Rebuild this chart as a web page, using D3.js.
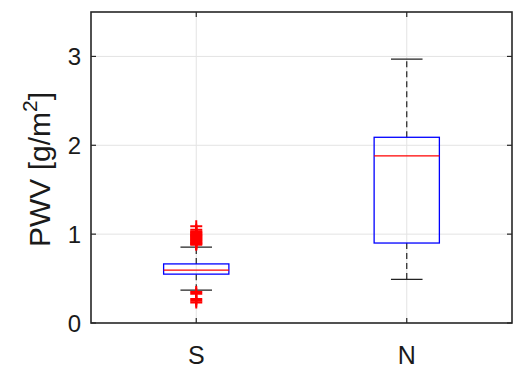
<!DOCTYPE html>
<html>
<head>
<meta charset="utf-8">
<script src="https://cdn.jsdelivr.net/npm/d3@7"></script>
<style>
  html, body { margin: 0; padding: 0; background: #fff; }
  text { font-family: "Liberation Sans", Arial, Helvetica, sans-serif; fill: #1a1a1a; }
</style>
</head>
<body>
<svg id="chart" width="513" height="369"></svg>
<script>
// ─── Data ───────────────────────────────────────────────────
const groups = ["S", "N"];
const q1 = [0.55, 0.90];
const medians = [0.595, 1.88];
const q3 = [0.665, 2.09];
const whiskerLow = [0.37, 0.49];
const whiskerHigh = [0.855, 2.97];
const outliersS = [0.88, 0.89, 0.9, 0.91, 0.92, 0.93, 0.94, 0.95, 0.96, 0.97, 0.98, 0.99, 1.0, 1.01, 1.02, 1.03, 1.05, 1.09,
                   0.35, 0.33, 0.27, 0.25, 0.23];
const outliersN = [];
const yTicks = [0, 1, 2, 3];

// ─── Layout ─────────────────────────────────────────────────
const svg = d3.select("#chart");
const mLeft = 91, mRight = 512, mTop = 12, mBottom = 323;

const x = d3.scaleLinear().domain([0.5, 2.5]).range([mLeft, mRight]);
const y = d3.scaleLinear().domain([0, 3.5]).range([mBottom, mTop]);
const boxHalf = 0.155;
const capHalf = 0.075;

// Grid
svg.append("g").selectAll("line").data(yTicks.filter(d => d > 0)).enter().append("line")
  .attr("x1", mLeft).attr("x2", mRight)
  .attr("y1", d => y(d)).attr("y2", d => y(d))
  .attr("stroke", "#e3e3e3").attr("stroke-width", 1);
svg.append("g").selectAll("line").data(groups).enter().append("line")
  .attr("x1", (d, i) => x(i + 1)).attr("x2", (d, i) => x(i + 1))
  .attr("y1", mTop).attr("y2", mBottom)
  .attr("stroke", "#e3e3e3").attr("stroke-width", 1);

// Boxes
const outliers = [outliersS, outliersN];
groups.forEach((g, i) => {
  const cx = x(i + 1);
  const b = svg.append("g");
  // whiskers (dashed)
  b.append("line").attr("x1", cx).attr("x2", cx)
    .attr("y1", y(q3[i])).attr("y2", y(whiskerHigh[i]))
    .attr("stroke", "#222").attr("stroke-width", 1.2).attr("stroke-dasharray", "6,4");
  b.append("line").attr("x1", cx).attr("x2", cx)
    .attr("y1", y(q1[i])).attr("y2", y(whiskerLow[i]))
    .attr("stroke", "#222").attr("stroke-width", 1.2).attr("stroke-dasharray", "6,4");
  // caps
  [whiskerHigh[i], whiskerLow[i]].forEach(v => {
    b.append("line").attr("x1", x(i + 1 - capHalf)).attr("x2", x(i + 1 + capHalf))
      .attr("y1", y(v)).attr("y2", y(v))
      .attr("stroke", "#222").attr("stroke-width", 1.2);
  });
  // box
  b.append("rect")
    .attr("x", x(i + 1 - boxHalf)).attr("width", x(i + 1 + boxHalf) - x(i + 1 - boxHalf))
    .attr("y", y(q3[i])).attr("height", y(q1[i]) - y(q3[i]))
    .attr("fill", "none").attr("stroke", "#0000ff").attr("stroke-width", 1.3);
  // median
  b.append("line").attr("x1", x(i + 1 - boxHalf)).attr("x2", x(i + 1 + boxHalf))
    .attr("y1", y(medians[i])).attr("y2", y(medians[i]))
    .attr("stroke", "#ff0000").attr("stroke-width", 1.3);
  // outliers (+)
  outliers[i].forEach(v => {
    const py = y(v);
    b.append("path")
      .attr("d", `M${cx - 6},${py}H${cx + 6}M${cx},${py - 6}V${py + 6}`)
      .attr("stroke", "#ff0000").attr("stroke-width", 2).attr("fill", "none");
  });
});

// Axes frame
const tickLen = 5;
const axisColor = "#262626";
const ax = svg.append("g");
ax.append("rect").attr("x", mLeft).attr("y", mTop)
  .attr("width", mRight - mLeft).attr("height", mBottom - mTop)
  .attr("fill", "none").attr("stroke", axisColor).attr("stroke-width", 1.6);
yTicks.forEach(t => {
  ax.append("line").attr("x1", mLeft).attr("x2", mLeft + tickLen).attr("y1", y(t)).attr("y2", y(t))
    .attr("stroke", axisColor).attr("stroke-width", 1.2);
  ax.append("line").attr("x1", mRight).attr("x2", mRight - tickLen).attr("y1", y(t)).attr("y2", y(t))
    .attr("stroke", axisColor).attr("stroke-width", 1.2);
  ax.append("text").attr("x", mLeft - 10).attr("y", y(t)).attr("dy", "0.36em")
    .attr("text-anchor", "end").attr("font-size", 24).text(t);
});
groups.forEach((g, i) => {
  const cx = x(i + 1);
  ax.append("line").attr("x1", cx).attr("x2", cx).attr("y1", mBottom).attr("y2", mBottom - tickLen)
    .attr("stroke", axisColor).attr("stroke-width", 1.2);
  ax.append("line").attr("x1", cx).attr("x2", cx).attr("y1", mTop).attr("y2", mTop + tickLen)
    .attr("stroke", axisColor).attr("stroke-width", 1.2);
  ax.append("text").attr("x", cx).attr("y", 364)
    .attr("text-anchor", "middle").attr("font-size", 25).text(g);
});

// Y label
const yl = svg.append("text")
  .attr("transform", `translate(50,${(mTop + mBottom) / 2 + 2}) rotate(-90)`)
  .attr("text-anchor", "middle").attr("font-size", 30);
yl.append("tspan").text("PWV [g/m");
yl.append("tspan").attr("font-size", 21).attr("dy", -13).text("2");
yl.append("tspan").attr("dy", 13).text("]");
</script>
</body>
</html>
